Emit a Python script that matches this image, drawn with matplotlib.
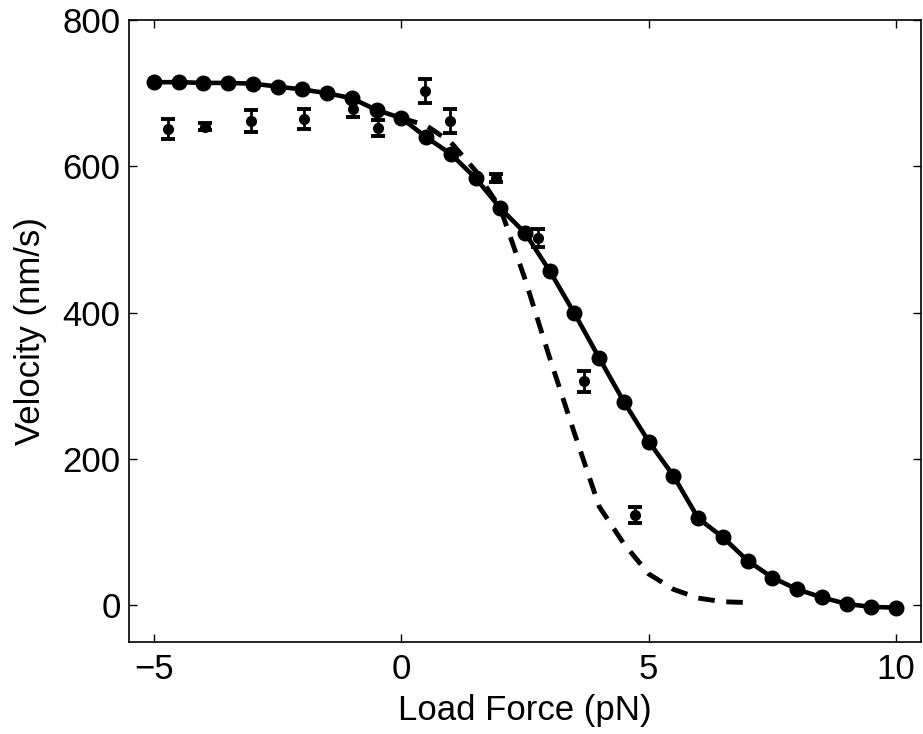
import matplotlib
matplotlib.use('Agg')
import matplotlib.pyplot as plt
import numpy as np

plt.rcParams['font.family'] = ['Liberation Sans', 'DejaVu Sans']

# model fit (solid line with dots)
model_force = [-5, -4.5, -4, -3.5, -3, -2.5, -2, -1.5, -1, -0.5, 0, 0.5, 1, 1.5, 2, 2.5,
               3, 3.5, 4, 4.5, 5, 5.5, 6, 6.5, 7, 7.5, 8, 8.5, 9, 9.5, 10]
model_vel = [715, 715, 714, 714, 713, 709, 705, 700, 693, 677, 666, 640, 617, 584, 543, 509,
             457, 399, 338, 278, 224, 177, 119, 93, 61, 38, 22, 11, 2, -2, -3]

# alternative model (dashed)
dash_force = [0, 0.5, 1, 1.5, 2, 2.5, 3, 3.5, 4, 4.5, 5, 5.5, 6, 6.5, 7]
dash_vel = [666, 656, 633, 594, 543, 446, 338, 235, 135, 84, 43, 22, 10, 5, 4]

# measured data with error bars
exp_force = [-4.72, -3.97, -3.04, -1.96, -0.97, -0.46, 0.48, 0.99, 1.91, 2.76, 3.69, 4.73]
exp_vel = [651, 654, 662, 665, 678, 652, 703, 662, 584, 502, 306, 123]
exp_err = [13, 5, 15, 14, 11, 11, 16, 17, 5, 12, 14, 11]

fig = plt.figure(figsize=(9.23, 7.34), dpi=100)
ax = fig.add_axes([0.1398, 0.1253, 0.858, 0.8475])

ax.plot(model_force, model_vel, color='black', linewidth=3.3, marker='o', markersize=10.5)
ax.plot(dash_force, dash_vel, color='black', linewidth=3.5, linestyle=(0, (3.4, 2.4)))
ax.errorbar(exp_force, exp_vel, yerr=exp_err, fmt='o', color='black', markersize=7,
            elinewidth=2, capsize=5, capthick=2.8)

ax.set_xlim(-5.5, 10.5)
ax.set_ylim(-50, 800)
ax.set_xticks([-5, 0, 5, 10])
ax.set_yticks([0, 200, 400, 600, 800])
ax.tick_params(direction='in', top=True, right=True, length=6, width=1, labelsize=25)
ax.tick_params(axis='y', pad=6)
ax.tick_params(axis='x', pad=8)
for s in ax.spines.values():
    s.set_linewidth(1.2)

ax.set_xlabel('Load Force (pN)', fontsize=25, labelpad=6)
ax.set_ylabel('Velocity (nm/s)', fontsize=25, labelpad=11)

fig.savefig('out.png', dpi=100)
